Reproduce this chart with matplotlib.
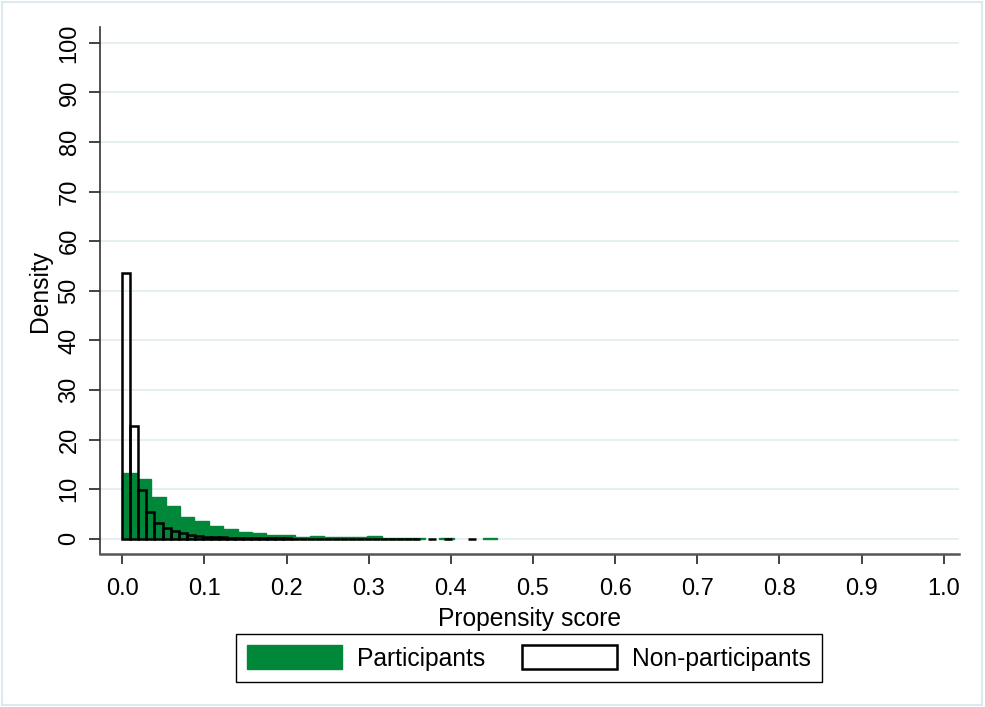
import matplotlib
matplotlib.use("Agg")
import matplotlib.pyplot as plt
import numpy as np
from matplotlib.patches import Rectangle, Patch

plt.rcParams['font.family'] = ['Liberation Sans', 'DejaVu Sans']

# Participants histogram (bin width ~0.01755, starting at 0)
part_width = 0.01755
part_density = [13.2, 12.0, 8.5, 6.6, 4.4, 3.7, 2.5, 2.0, 1.45, 1.2, 0.85, 0.7,
                 0.4, 0.5, 0.35, 0.3, 0.45, 0.65, 0.25, 0.2, 0.15, 0.0, 0.1, 0.0,
                 0.0, 0.1]

# Non-participants histogram (bin width ~0.0098, starting at 0)
nonpart_width = 0.0098
nonpart_density = [53.7, 22.8, 9.9, 5.5, 3.3, 2.2, 1.5, 1.1, 0.8, 0.6, 0.45, 0.35,
                   0.3, 0.25, 0.2, 0.18, 0.15, 0.12, 0.1, 0.08, 0.08, 0.07, 0.07,
                   0.06, 0.06, 0.05, 0.05, 0.05, 0.05, 0.05, 0.05, 0.05, 0.05,
                   0.05, 0.05, 0.05, 0.05, 0.0, 0.05, 0.0, 0.05, 0.0, 0.0, 0.05]

xticks = [0.0, 0.1, 0.2, 0.3, 0.4, 0.5, 0.6, 0.7, 0.8, 0.9, 1.0]
yticks = [0, 10, 20, 30, 40, 50, 60, 70, 80, 90, 100]

GREEN = '#00873a'
GRID = '#e3eef1'

fig = plt.figure(figsize=(9.85, 7.07), dpi=100)
ax = fig.add_axes([100/985, 1-554/707, (959-100)/985, (554-27)/707])

# gridlines
for y in yticks:
    ax.axhline(y, color=GRID, lw=1.3, zorder=0)

pd_arr = np.array(part_density)
p_left = np.arange(len(pd_arr)) * part_width
m = pd_arr > 0
ax.bar(p_left[m], pd_arr[m], width=part_width, align='edge', color=GREEN,
       edgecolor=GREEN, linewidth=1.0, zorder=2)

nd_arr = np.array(nonpart_density)
n_left = np.arange(len(nd_arr)) * nonpart_width
m2 = nd_arr > 0
ax.bar(n_left[m2], nd_arr[m2], width=nonpart_width, align='edge', facecolor='none',
       edgecolor='black', linewidth=1.8, zorder=3)

ax.set_xlim(-0.0271, 1.0186)
ax.set_ylim(-3.05, 103.2)
ax.set_xticks(xticks)
ax.set_xticklabels([f"{t:.1f}" for t in xticks])
ax.set_yticks(yticks)
ax.set_yticklabels([str(t) for t in yticks], rotation=90, va='center')

for s in ['top', 'right']:
    ax.spines[s].set_visible(False)
ax.spines['left'].set_color('#333333')
ax.spines['bottom'].set_color('#555555')
ax.spines['left'].set_linewidth(1.2)
ax.spines['bottom'].set_linewidth(1.8)
ax.tick_params(axis='x', length=7, width=1.2, labelsize=17, pad=10, color='#222222')
ax.tick_params(axis='y', length=8, width=1.2, labelsize=17, pad=6, color='#222222')

ax.set_xlabel('Propensity score', fontsize=17.7, labelpad=5)
ax.set_ylabel('Density', fontsize=17.7, labelpad=5)

handles = [Patch(facecolor=GREEN, edgecolor=GREEN, label='Participants'),
           Patch(facecolor='white', edgecolor='black', linewidth=1.8, label='Non-participants')]
leg = fig.legend(handles=handles, loc='center', bbox_to_anchor=(529/985, 1-658/707),
                 ncol=2, fontsize=17.7, frameon=True, fancybox=False, framealpha=1,
                 edgecolor='black', borderpad=0.48, handlelength=3.86, handleheight=1.08,
                 handletextpad=0.59, columnspacing=1.52)
leg.get_frame().set_linewidth(1.0)

fig.patches.append(Rectangle((2/985, 2/707), 980/985, 703/707, transform=fig.transFigure,
                             fill=False, edgecolor='#dce9ee', linewidth=1.5))

fig.savefig('out.png', dpi=100)
